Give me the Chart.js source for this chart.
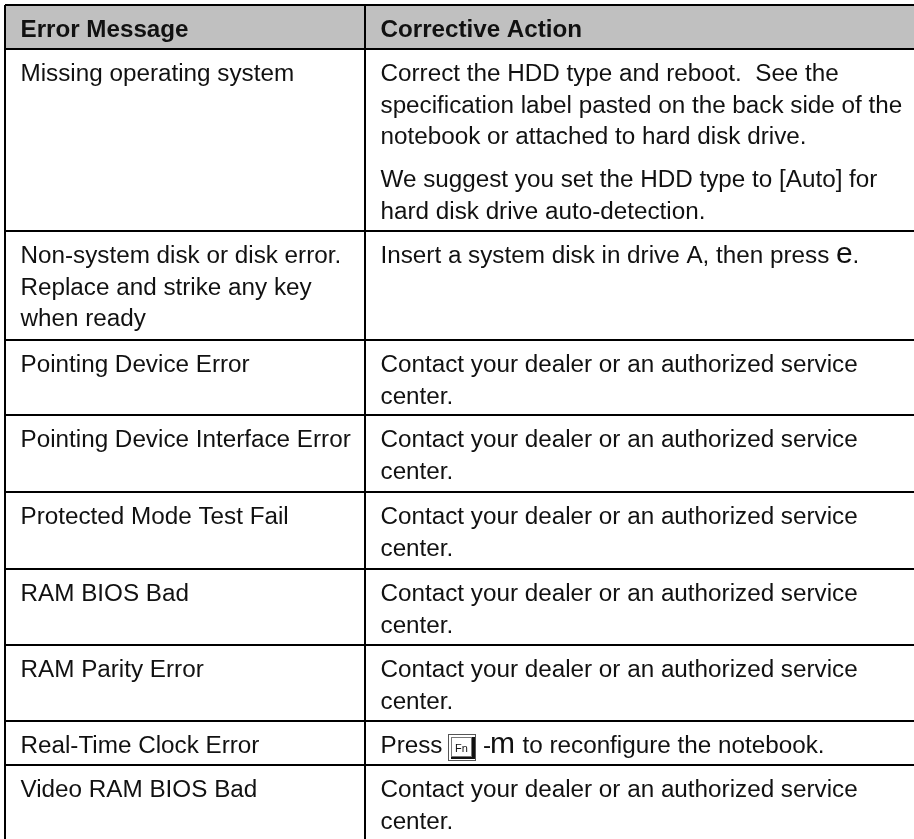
<!DOCTYPE html>
<html lang="en">
<head>
  <meta charset="UTF-8">
  <title>Error Message / Corrective Action</title>
  <script src="https://cdn.jsdelivr.net/npm/chart.js"></script>
  <style>
    html, body { margin: 0; padding: 0; background: white; overflow: hidden; }
    #wrap { width: 914px; height: 839px; }
  </style>
</head>
<body>
  <div id="wrap"><canvas id="errorTable"></canvas></div>

  <script>
    const columnTitles = ['Error Message', 'Corrective Action'];

    const errorMessages = [
      ['Missing operating system'],
      ['Non-system disk or disk error.', 'Replace and strike any key', 'when ready'],
      ['Pointing Device Error'],
      ['Pointing Device Interface Error'],
      ['Protected Mode Test Fail'],
      ['RAM BIOS Bad'],
      ['RAM Parity Error'],
      ['Real-Time Clock Error'],
      ['Video RAM BIOS Bad']
    ];

    const contactDealer = ['Contact your dealer or an authorized service', 'center.'];

    const correctiveActions = [
      ['Correct the HDD type and reboot.  See the', 'specification label pasted on the back side of the', 'notebook or attached to hard disk drive.',
       '', 'We suggest you set the HDD type to [Auto] for', 'hard disk drive auto-detection.'],
      ['Insert a system disk in drive A, then press '],
      contactDealer,
      contactDealer,
      contactDealer,
      contactDealer,
      contactDealer,
      ['Press '],
      contactDealer
    ];

    // table layout, in page pixels
    const columnEdges = [5, 365];
    const rowEdges = [5, 49, 231, 340, 415, 492, 569, 645, 721, 765];
    const pageWidth = 914;
    const pageHeight = 839;
    const textInset = 15.5;
    const firstBaseline = 32;
    const lineStep = 31.7;
    const paragraphGap = 43;

    const FONT = '"Liberation Sans", Arial, sans-serif';
    const BODY_SIZE = 24.25;

    const tableText = {
      id: 'tableText',
      afterDraw(chart) {
        const { ctx, scales: { x, y } } = chart;
        ctx.save();
        ctx.fillStyle = '#111';
        ctx.textBaseline = 'alphabetic';

        ctx.font = 'bold 24.2px ' + FONT;
        columnTitles.forEach((t, i) => {
          ctx.fillText(t, x.getPixelForValue(columnEdges[i]) + textInset, y.getPixelForValue(37));
        });

        ctx.font = BODY_SIZE + 'px ' + FONT;
        const cell = (lines, col, row) => {
          let base = rowEdges[row + 1] + firstBaseline;
          lines.forEach(line => {
            if (line === '') { base += paragraphGap - lineStep; return; }
            ctx.fillText(line, x.getPixelForValue(columnEdges[col]) + textInset, y.getPixelForValue(base));
            base += lineStep;
          });
        };
        errorMessages.forEach((lines, r) => cell(lines, 0, r));
        correctiveActions.forEach((lines, r) => cell(lines, 1, r));

        // key symbols set in a larger face
        const x2 = x.getPixelForValue(columnEdges[1]) + textInset;
        const w = ctx.measureText(correctiveActions[1][0]).width;
        ctx.font = '30px ' + FONT;
        ctx.fillText('e', x2 + w, y.getPixelForValue(rowEdges[2] + firstBaseline));
        ctx.font = BODY_SIZE + 'px ' + FONT;
        ctx.fillText('.', x2 + w + 16.5, y.getPixelForValue(rowEdges[2] + firstBaseline));

        // Fn keycap
        const keyY = y.getPixelForValue(734);
        const keyX = x.getPixelForValue(448);
        ctx.strokeStyle = '#555';
        ctx.lineWidth = 1;
        ctx.strokeRect(keyX + 0.5, keyY + 0.5, 27, 26);
        ctx.strokeStyle = '#777';
        ctx.strokeRect(keyX + 3.5, keyY + 3.5, 20, 19);
        ctx.fillRect(keyX + 24, keyY + 3, 3, 21);
        ctx.fillRect(keyX + 3, keyY + 23, 24, 2);
        ctx.font = '11px ' + FONT;
        ctx.fillText('Fn', keyX + 7, keyY + 18);

        const by = y.getPixelForValue(rowEdges[8] + firstBaseline);
        ctx.font = BODY_SIZE + 'px ' + FONT;
        ctx.fillText('-', x.getPixelForValue(483), by);
        ctx.font = '30px ' + FONT;
        ctx.fillText('m', x.getPixelForValue(490), by);
        ctx.font = BODY_SIZE + 'px ' + FONT;
        ctx.fillText('to reconfigure the notebook.', x.getPixelForValue(522.5), by);
        ctx.restore();
      }
    };

    new Chart(document.getElementById('errorTable').getContext('2d'), {
      type: 'bar',
      data: {
        datasets: [{
          label: 'Header',
          data: [{ x: [columnEdges[0], pageWidth], y: (rowEdges[0] + rowEdges[1]) / 2 }],
          backgroundColor: '#c0c0c0',
          barThickness: rowEdges[1] - rowEdges[0],
          borderWidth: 0
        }]
      },
      options: {
        indexAxis: 'y',
        responsive: true,
        maintainAspectRatio: false,
        animation: false,
        layout: { padding: { left: columnEdges[0], top: rowEdges[0], right: 0, bottom: 0 } },
        plugins: { legend: { display: false }, tooltip: { enabled: false } },
        scales: {
          x: {
            type: 'linear',
            min: columnEdges[0],
            max: pageWidth,
            afterBuildTicks: s => { s.ticks = columnEdges.map(v => ({ value: v })); },
            ticks: { display: false },
            border: { display: false },
            grid: { color: '#000', lineWidth: 2, drawTicks: false, z: 1 }
          },
          y: {
            type: 'linear',
            reverse: true,
            offset: false,
            min: rowEdges[0],
            max: pageHeight,
            afterBuildTicks: s => { s.ticks = rowEdges.map(v => ({ value: v })); },
            ticks: { display: false },
            border: { display: false },
            grid: { color: '#000', lineWidth: 2, drawTicks: false, offset: false, z: 1 }
          }
        }
      },
      plugins: [tableText]
    });
  </script>
</body>
</html>
